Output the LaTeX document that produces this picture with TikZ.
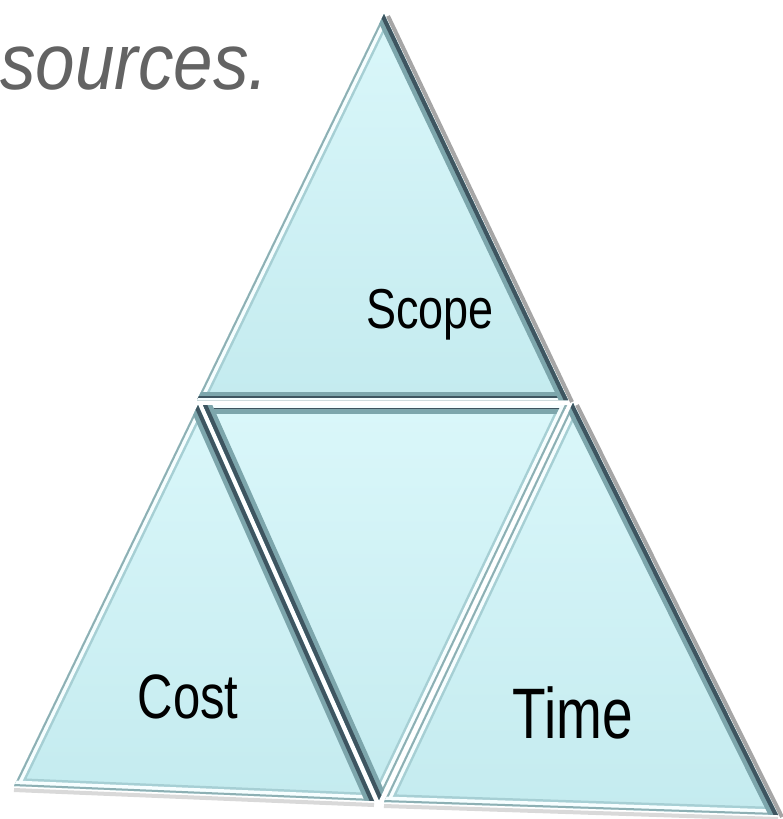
\documentclass[tikz,border=0pt]{standalone}
\usepackage{fontspec}
\setmainfont{Liberation Sans}
\definecolor{triTop}{HTML}{DAF7FA}
\definecolor{triBot}{HTML}{C4EBEF}
\definecolor{bevBand}{HTML}{A6CFD4}
\definecolor{bevDark}{HTML}{3E5560}
\definecolor{bevMid}{HTML}{7DA6AC}
\definecolor{bevLight}{HTML}{F6FEFF}
\definecolor{txtGrey}{HTML}{636363}
\tikzset{
  band/.style={line width=16pt, bevBand, line cap=round},
  darkedge/.style={line width=8pt, bevDark, line cap=round},
  midedge/.style={line width=17pt, bevMid, line cap=round},
  lightedge/.style={line width=11pt, bevLight, line cap=round},
  rimedge/.style={line width=4pt, bevBand!85!black, line cap=round},
  label/.style={inner sep=0pt, text=black},
  shadowline/.style={line width=4pt, black, opacity=0.35, line join=round}
}
\newcommand{\bevtri}[3]{%
  \begin{scope}
    \clip (#1)--(#2)--(#3)--cycle;
    \shade[top color=triTop, bottom color=triBot] (#1)--(#2)--(#3)--cycle;
    \draw[band] (#1)--(#2)--(#3)--cycle;
  \end{scope}}
\newcommand{\litedge}[2]{\draw[lightedge] (#1)--(#2); \draw[rimedge] (#1)--(#2);}
\newcommand{\drkedge}[2]{\draw[midedge] (#1)--(#2); \draw[darkedge] (#1)--(#2);}
\begin{document}
\begin{tikzpicture}[x=1pt,y=-1pt]
\useasboundingbox (0,0) rectangle (782,819);
\fill[white] (0,0) rectangle (782,819);

% vertices
\coordinate (sA) at (384,14);
\coordinate (sL) at (197,400);
\coordinate (sR) at (568,400);
\coordinate (cA) at (198,405);
\coordinate (cL) at (14,786);
\coordinate (cR) at (374,801);
\coordinate (mL) at (203,405);
\coordinate (mR) at (567,405);
\coordinate (mB) at (379,800);
\coordinate (tA) at (573,403);
\coordinate (tL) at (384,802);
\coordinate (tR) at (778,815);

% drop shadow along outer right edges
\draw[shadowline] ([shift={(4,2)}]sA) -- ([shift={(4,2)}]sR);
\draw[shadowline] ([shift={(4,2)}]tA) -- ([shift={(4,2)}]tR);
\draw[shadowline, opacity=0.15] ([shift={(0,4)}]cL) -- ([shift={(0,4)}]cR);
\draw[shadowline, opacity=0.15] ([shift={(0,4)}]tL) -- ([shift={(0,4)}]tR);

% Scope triangle
\bevtri{sA}{sL}{sR}
\begin{scope}
  \clip (sA)--(sL)--(sR)--cycle;
  \litedge{sA}{sL}
  \drkedge{sL}{sR}
  \draw[lightedge, line width=5pt] (sL)--(sR);
  \drkedge{sA}{sR}
\end{scope}
% Cost triangle
\bevtri{cA}{cL}{cR}
\begin{scope}
  \clip (cA)--(cL)--(cR)--cycle;
  \litedge{cA}{cL}
  \litedge{cL}{cR}
  \drkedge{cA}{cR}
\end{scope}
% middle inverted triangle
\bevtri{mL}{mR}{mB}
\begin{scope}
  \clip (mL)--(mR)--(mB)--cycle;
  \drkedge{mL}{mR}
  \draw[lightedge, line width=5pt] (mL)--(mR);
  \litedge{mR}{mB}
  \drkedge{mL}{mB}
\end{scope}
% Time triangle
\bevtri{tA}{tL}{tR}
\begin{scope}
  \clip (tA)--(tL)--(tR)--cycle;
  \litedge{tA}{tL}
  \litedge{tL}{tR}
  \drkedge{tA}{tR}
\end{scope}

% labels
\node[label, font=\fontsize{45}{50}\selectfont] (scope) at (430,315) {\scalebox{1}[1.25]{Scope}};
\node[label, font=\fontsize{49}{54}\selectfont] (cost) at (188,697) {\scalebox{1}[1.28]{Cost}};
\node[label, font=\fontsize{55}{60}\selectfont] (time) at (573,713) {\scalebox{1}[1.3]{Time}};

% partial heading text
\node[anchor=base west, inner sep=0pt, text=txtGrey, font=\fontsize{71}{80}\selectfont\itshape] (src) at (0,89) {\scalebox{1}[1.12]{sources.}};
\end{tikzpicture}
\end{document}
